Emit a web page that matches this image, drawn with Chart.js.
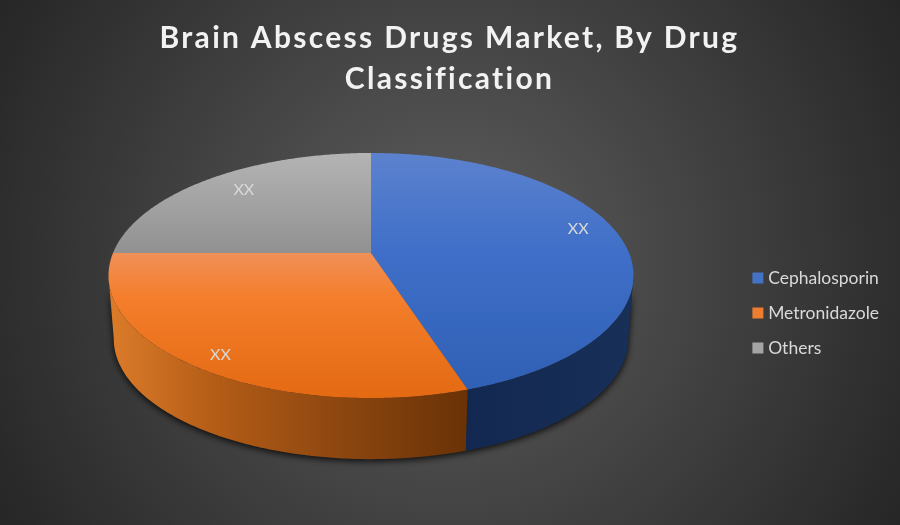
<!DOCTYPE html>
<html>
<head>
<meta charset="utf-8">
<style>
    html, body { margin: 0; padding: 0; background: #333; }
    canvas { display: block; }
</style>
<script src="https://cdn.jsdelivr.net/npm/chart.js@4"></script>
</head>
<body>
<canvas id="chart" width="900" height="525"></canvas>
<script>
const categories = ['Cephalosporin', 'Metronidazole', 'Others'];
const shares = [45, 30, 25];
const sliceLabels = ['XX', 'XX', 'XX'];
const titleLines = ['Brain Abscess Drugs Market, By Drug', 'Classification'];
const legendColours = ['#4472C4', '#ED7D31', '#A5A5A5'];

// The library has no tilted pie, so the arcs it lays out are projected here.
const view = { x: 371, y: 253, a: 258, b: 118.4, k: 0.1837, depth: 64, floor: 0.98 };
const faces = [
    [[0, '#5C82CE'], [0.42, '#3F6FC8'], [1, '#2F60B5']],
    [[0, '#F09058'], [0.3, '#F47E2C'], [1, '#E46A12']],
    [[0, '#B4B4B4'], [1, '#919191']],
];
const walls = [
    [[0, '#122850'], [1, '#182F58']],
    [[0, '#DC7C2A'], [0.3, '#B35C16'], [0.65, '#8C4610'], [1, '#6A3206']],
    [[0, '#777777'], [1, '#777777']],
];
const labelNudge = [[3, -9], [-9, 12], [8, -1]];

function project(angle, radius, floor) {
    let u = Math.cos(angle) * radius;
    let v = Math.sin(angle) * radius;
    let w = 1 - view.k * v;
    let scale = floor ? view.floor : 1;
    return {
        x: view.x + scale * view.a * u / w,
        y: view.y + scale * view.b * v / w + (floor ? view.depth : 0),
    };
}

function gradient(ctx, x0, y0, x1, y1, stops) {
    let fill = ctx.createLinearGradient(x0, y0, x1, y1);
    for (let stop of stops) {
        fill.addColorStop(stop[0], stop[1]);
    }
    return fill;
}

function arcPoints(start, end, radius, floor) {
    let points = [];
    let steps = Math.max(2, Math.ceil((end - start) / 0.01));
    for (let i = 0; i <= steps; i++) {
        points.push(project(start + (end - start) * i / steps, radius, floor));
    }
    return points;
}

function trace(ctx, points) {
    ctx.beginPath();
    points.forEach((p, i) => i ? ctx.lineTo(p.x, p.y) : ctx.moveTo(p.x, p.y));
    ctx.closePath();
}

const tiltedPie = {
    id: 'tiltedPie',
    beforeDatasetsDraw(chart) {
        let ctx = chart.ctx;
        let arcs = chart.getDatasetMeta(0).data;
        // silhouette angles: the wall only shows between these two
        let wallFrom = Math.asin(view.k);
        let wallTo = Math.PI - wallFrom;

        ctx.save();
        ctx.shadowColor = 'rgba(0,0,0,0.85)';
        ctx.shadowBlur = 7;
        ctx.shadowOffsetY = 2;
        ctx.fillStyle = '#222';
        trace(ctx, arcPoints(wallFrom, wallTo, 1, false).concat(arcPoints(wallFrom, wallTo, 1, true).reverse()));
        ctx.fill();
        ctx.restore();

        arcs.forEach((arc, i) => {
            let start = Math.max(arc.startAngle, wallFrom);
            let end = Math.min(arc.endAngle, wallTo);
            if (end <= start) {
                return;
            }
            let top = arcPoints(start, end, 1, false);
            let bottom = arcPoints(start, end, 1, true).reverse();
            let xs = top.concat(bottom).map(p => p.x);
            ctx.fillStyle = gradient(ctx, Math.min(...xs), 0, Math.max(...xs), 0, walls[i]);
            trace(ctx, top.concat(bottom));
            ctx.fill();
        });

        arcs.forEach((arc, i) => {
            let points = arcPoints(arc.startAngle, arc.endAngle, 1, false);
            points.push({ x: view.x, y: view.y });
            let ys = points.map(p => p.y);
            ctx.fillStyle = gradient(ctx, 0, Math.min(...ys), 0, Math.max(...ys), faces[i]);
            trace(ctx, points);
            ctx.fill();
        });

        ctx.fillStyle = '#D9D9D9';
        ctx.font = '16px Lato';
        ctx.textAlign = 'center';
        ctx.textBaseline = 'middle';
        arcs.forEach((arc, i) => {
            let p = project((arc.startAngle + arc.endAngle) / 2, 0.82, false);
            ctx.fillText(sliceLabels[i], p.x + labelNudge[i][0], p.y + labelNudge[i][1]);
        });
        return false;
    },
};

const backdrop = {
    id: 'backdrop',
    beforeDraw(chart) {
        let ctx = chart.ctx;
        let fill = ctx.createRadialGradient(450, 262, 0, 450, 262, 520);
        fill.addColorStop(0, '#5E5E5E');
        fill.addColorStop(1, '#262626');
        ctx.fillStyle = fill;
        ctx.fillRect(0, 0, chart.width, chart.height);
    },
};

// the title is letter-spaced, the legend is not
const spacedTitle = {
    id: 'spacedTitle',
    afterLayout(chart) {
        let block = chart.titleBlock;
        if (block.spaced) {
            return;
        }
        let draw = block.draw;
        block.draw = function() {
            chart.ctx.letterSpacing = '2.3px';
            draw.call(block);
            chart.ctx.letterSpacing = '0px';
        };
        block.spaced = true;
    },
};

new Chart(document.getElementById('chart'), {
    type: 'pie',
    data: {
        labels: categories,
        datasets: [{
            data: shares,
            backgroundColor: legendColours,
            borderWidth: 0,
        }],
    },
    plugins: [backdrop, spacedTitle, tiltedPie],
    options: {
        responsive: false,
        animation: false,
        events: [],
        layout: { padding: { left: 10, right: 11 } },
        plugins: {
            title: {
                display: true,
                text: titleLines,
                color: '#F2F2F2',
                font: { family: 'Lato', size: 30, weight: 'bold', lineHeight: 1.37 },
                padding: { top: 18, bottom: 1 },
            },
            legend: {
                position: 'right',
                fullSize: false,
                labels: {
                    color: '#D9D9D9',
                    font: { family: 'Lato', size: 17.5 },
                    usePointStyle: true,
                    pointStyle: 'rect',
                    boxWidth: 3,
                    boxHeight: 11,
                    padding: 17.5,
                },
            },
            tooltip: { enabled: false },
        },
    },
});
</script>
</body>
</html>
